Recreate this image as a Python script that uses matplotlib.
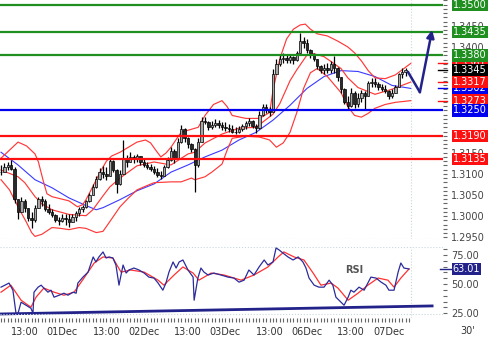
import numpy as np
import matplotlib
matplotlib.use("Agg")
import matplotlib.pyplot as plt
import matplotlib.transforms as mtransforms
from matplotlib.ticker import MultipleLocator, FormatStrFormatter, FixedLocator, FuncFormatter

plt.rcParams['font.family'] = 'DejaVu Sans'

# hourly bars from 30Nov 06:00 to 07Dec 05:00 (weekend left out)
closes = [1.3105, 1.3115, 1.3120, 1.3112, 1.3040, 1.3010, 1.3035, 1.3020, 1.2995, 1.2990,
          1.3020, 1.3040, 1.3035, 1.3018, 1.3010, 1.3002, 1.2990, 1.2988, 1.2995, 1.2992,
          1.2985, 1.2998, 1.3008, 1.3018, 1.3022, 1.3035, 1.3050, 1.3070, 1.3088, 1.3105,
          1.3100, 1.3095, 1.3130, 1.3110, 1.3075, 1.3100, 1.3135, 1.3128, 1.3140, 1.3135,
          1.3142, 1.3128, 1.3122, 1.3115, 1.3112, 1.3105, 1.3098, 1.3095, 1.3115, 1.3132,
          1.3155, 1.3135, 1.3175, 1.3205, 1.3185, 1.3170, 1.3158, 1.3120, 1.3175, 1.3225,
          1.3222, 1.3210, 1.3215, 1.3220, 1.3215, 1.3210, 1.3208, 1.3205, 1.3200, 1.3198,
          1.3205, 1.3212, 1.3220, 1.3225, 1.3212, 1.3208, 1.3240, 1.3258, 1.3250, 1.3245,
          1.3335, 1.3360, 1.3372, 1.3375, 1.3370, 1.3377, 1.3368, 1.3385, 1.3415, 1.3410,
          1.3392, 1.3380, 1.3372, 1.3355, 1.3345, 1.3350, 1.3345, 1.3360, 1.3350, 1.3328,
          1.3300, 1.3270, 1.3260, 1.3290, 1.3265, 1.3280, 1.3290, 1.3285, 1.3315, 1.3318,
          1.3312, 1.3305, 1.3300, 1.3295, 1.3285, 1.3292, 1.3305, 1.3335, 1.3340, 1.3345]
highs = [1.3121, 1.3126, 1.3128, 1.3133, 1.3115, 1.3040, 1.3045, 1.3040, 1.3020, 1.3010,
         1.3027, 1.3045, 1.3048, 1.3040, 1.3028, 1.3018, 1.3004, 1.2997, 1.3004, 1.3006,
         1.3004, 1.3006, 1.3012, 1.3022, 1.3027, 1.3039, 1.3055, 1.3076, 1.3095, 1.3114,
         1.3118, 1.3116, 1.3138, 1.3133, 1.3112, 1.3109, 1.3180, 1.3144, 1.3151, 1.3144,
         1.3147, 1.3142, 1.3138, 1.3128, 1.3123, 1.3118, 1.3114, 1.3107, 1.3121, 1.3140,
         1.3163, 1.3158, 1.3184, 1.3215, 1.3208, 1.3188, 1.3172, 1.3162, 1.3184, 1.3234,
         1.3234, 1.3224, 1.3224, 1.3229, 1.3227, 1.3222, 1.3222, 1.3217, 1.3215, 1.3210,
         1.3212, 1.3217, 1.3224, 1.3231, 1.3227, 1.3217, 1.3248, 1.3266, 1.3264, 1.3259,
         1.3349, 1.3372, 1.3381, 1.3386, 1.3381, 1.3384, 1.3379, 1.3391, 1.3433, 1.3424,
         1.3419, 1.3395, 1.3386, 1.3372, 1.3358, 1.3360, 1.3363, 1.3367, 1.3379, 1.3353,
         1.3330, 1.3302, 1.3285, 1.3304, 1.3295, 1.3292, 1.3299, 1.3297, 1.3320, 1.3327,
         1.3327, 1.3318, 1.3313, 1.3309, 1.3299, 1.3301, 1.3311, 1.3339, 1.3351, 1.3350]
lows = [1.3097, 1.3105, 1.3109, 1.3110, 1.3030, 1.2992, 1.3010, 1.3010, 1.2988, 1.2973,
        1.2985, 1.3020, 1.3025, 1.3012, 1.3006, 1.2998, 1.2985, 1.2978, 1.2985, 1.2978,
        1.2975, 1.2985, 1.2988, 1.3000, 1.3010, 1.3020, 1.3034, 1.3050, 1.3066, 1.3086,
        1.3090, 1.3086, 1.3095, 1.3105, 1.3055, 1.3074, 1.3100, 1.3116, 1.3128, 1.3126,
        1.3128, 1.3121, 1.3116, 1.3112, 1.3107, 1.3100, 1.3093, 1.3088, 1.3095, 1.3114,
        1.3130, 1.3126, 1.3135, 1.3172, 1.3175, 1.3161, 1.3151, 1.3057, 1.3115, 1.3175,
        1.3217, 1.3203, 1.3205, 1.3210, 1.3208, 1.3203, 1.3201, 1.3198, 1.3196, 1.3194,
        1.3196, 1.3201, 1.3205, 1.3212, 1.3208, 1.3196, 1.3205, 1.3236, 1.3243, 1.3236,
        1.3245, 1.3335, 1.3356, 1.3363, 1.3363, 1.3363, 1.3360, 1.3367, 1.3385, 1.3398,
        1.3386, 1.3375, 1.3367, 1.3349, 1.3339, 1.3337, 1.3339, 1.3339, 1.3339, 1.3320,
        1.3292, 1.3264, 1.3250, 1.3258, 1.3255, 1.3257, 1.3269, 1.3250, 1.3285, 1.3306,
        1.3306, 1.3299, 1.3295, 1.3290, 1.3278, 1.3280, 1.3290, 1.3305, 1.3327, 1.3332]

# blue moving average
ma_t = [0, 5, 10, 15, 20, 25, 28, 30, 35, 40, 45, 50, 55, 60, 65, 70, 75, 80,
        85, 90, 95, 100, 105, 110, 115, 120.5]
ma_v = [1.3151, 1.3121, 1.3086, 1.3067, 1.3043, 1.3025, 1.3015, 1.3020, 1.3039, 1.3060,
        1.3076, 1.3104, 1.3121, 1.3140, 1.3156, 1.3180, 1.3198, 1.3227,
        1.3262, 1.3302, 1.3330, 1.3344, 1.3342, 1.3330, 1.3309, 1.3302]

# bollinger bands
bb_up_t = [0, 2.5, 5, 7.5, 10, 11, 12.5, 13.5, 15, 20, 22.5, 24, 25, 26.5, 28, 29.5,
           31, 32.5, 35, 37.5, 40, 42.5, 44, 45.5, 47, 48.5, 50, 52, 53, 55, 58, 60,
           62.5, 65, 66.5, 68, 72, 76, 79, 80, 82, 84, 86, 88, 89.5, 91, 93, 96, 99,
           102, 104, 106, 108, 110, 113, 116, 118, 120.5]
bb_up = [1.3137, 1.3156, 1.3175, 1.3166, 1.3147, 1.3128, 1.3081, 1.3053, 1.3046, 1.3036,
         1.3022, 1.3027, 1.3039, 1.3062, 1.3086, 1.3109, 1.3130, 1.3142, 1.3151, 1.3163,
         1.3175, 1.3180, 1.3173, 1.3156, 1.3140, 1.3149, 1.3163, 1.3187, 1.3198, 1.3203,
         1.3210, 1.3238, 1.3264, 1.3273, 1.3259, 1.3238, 1.3231, 1.3231, 1.3245, 1.3297,
         1.3372, 1.3419, 1.3442, 1.3452, 1.3454, 1.3442, 1.3431, 1.3426, 1.3414, 1.3400,
         1.3386, 1.3367, 1.3344, 1.3327, 1.3325, 1.3334, 1.3346, 1.3361]
bb_mid_t = [0, 5, 7, 10, 12, 15, 20, 25, 27, 30, 32, 35, 40, 45, 50, 55, 57, 60, 65,
            70, 75, 80, 82, 85, 87, 90, 92, 95, 100, 102, 105, 110, 115, 120.5]
bb_mid = [1.3109, 1.3093, 1.3079, 1.3046, 1.3029, 1.3015, 1.3004, 1.3001, 1.3015, 1.3048,
          1.3069, 1.3090, 1.3119, 1.3128, 1.3121, 1.3147, 1.3151, 1.3173, 1.3194,
          1.3208, 1.3210, 1.3241, 1.3266, 1.3320, 1.3346, 1.3381, 1.3384, 1.3377, 1.3349,
          1.3327, 1.3304, 1.3288, 1.3300, 1.3317]
bb_low_t = [0, 2.5, 5, 7.5, 9, 10, 12, 15, 17.5, 20, 23, 25, 28, 30, 32, 35, 37.5, 40,
            42, 45, 50, 53, 56, 57, 60, 62, 65, 66.5, 68, 72, 76, 79, 81, 83, 85, 87,
            89, 91, 93, 96, 98, 100, 102, 104, 106, 108, 110, 113, 116, 120.5]
bb_low = [1.3086, 1.3062, 1.3022, 1.2985, 1.2961, 1.2952, 1.2957, 1.2973, 1.2971, 1.2968,
          1.2973, 1.2971, 1.2961, 1.2964, 1.2987, 1.3022, 1.3043, 1.3062,
          1.3069, 1.3079, 1.3081, 1.3081, 1.3090, 1.3086, 1.3093, 1.3104, 1.3123, 1.3156,
          1.3184, 1.3189, 1.3187, 1.3180, 1.3163, 1.3173, 1.3198, 1.3245,
          1.3302, 1.3339, 1.3349, 1.3330, 1.3311, 1.3292, 1.3259, 1.3238, 1.3234, 1.3243,
          1.3255, 1.3264, 1.3269, 1.3273]

# RSI and its signal line
rsi_t = [0, 2.35, 3.5, 4.4, 5, 5.9, 7.35, 8.8, 9.4, 9.7, 10.9, 11.8, 12.6, 13.8, 14.7,
         15.6, 17.1, 18.5, 19.7, 21.2, 22.1, 22.6, 24.1, 25.6, 27.1, 27.9, 28.8, 30,
         30.9, 31.8, 32.9, 33.8, 34.7, 35.9, 36.8, 37.6, 39.1, 40.6, 42.1, 43.5, 45,
         46.2, 47.6, 48.5, 49.4, 50.6, 51.5, 52.4, 53.5, 55, 56.5, 56.8, 57.9, 58.8,
         59.7, 60.9, 62.6, 64.7, 66.8, 68.5, 70, 71.5, 72.9, 74.4, 75.9, 77.4, 78.5,
         80, 80.9, 81.8, 82.9, 84.4, 85.9, 87.4, 88.8, 89.7, 90.6, 92.1, 93.5, 95,
         96.5, 97.6, 98.5, 100, 100.9, 102.1, 102.9, 103.8, 105.3, 106.8, 108.8, 110.3,
         111.8, 113.2, 114.1, 115.6, 116.8, 117.6, 118.5, 120]
rsi_v = [47.4, 50.9, 44.8, 25.0, 25.0, 34.5, 31.9, 29.3, 25.0, 43.1, 47.4, 49.1, 46.6,
         43.1, 44.8, 38.8, 40.5, 42.2, 40.5, 43.1, 42.2, 50.9, 56.0, 60.3, 73.3, 69.0,
         73.3, 77.6, 72.4, 73.3, 72.4, 66.4, 49.1, 66.4, 59.5, 62.1, 63.8, 62.1, 59.5,
         56.0, 55.2, 50.9, 44.8, 50.9, 60.3, 69.0, 63.8, 69.0, 70.7, 62.1, 56.0, 36.2,
         55.2, 63.8, 60.3, 57.8, 59.5, 57.8, 56.0, 55.2, 51.7, 53.4, 62.1, 57.8, 64.7,
         70.7, 66.4, 69.0, 81.0, 79.3, 76.7, 73.3, 70.7, 73.3, 69.0, 63.8, 55.2, 49.1,
         47.4, 47.4, 53.4, 49.1, 38.8, 34.5, 31.9, 38.8, 44.8, 43.1, 47.4, 44.8, 56.0,
         55.2, 51.7, 49.1, 44.8, 44.8, 60.3, 68.1, 63.8, 63.0]
sig_t = [0, 2.9, 5.9, 8.8, 10.3, 12.6, 15.6, 18.5, 21.5, 24.4, 27.4, 30, 32.9, 35.3,
         38.2, 42.1, 46.2, 47.9, 50.9, 53.5, 56.5, 58.2, 61.8, 65.6, 70.6, 74.4, 78.5,
         81.5, 83.2, 86.2, 89.1, 91.8, 94.1, 97.1, 99.1, 102.1, 105, 107.9, 110.9,
         113.8, 115.6, 117.6, 120]
sig_v = [43.1, 49.1, 36.2, 30.2, 38.8, 46.6, 43.1, 40.5, 43.1, 55.2, 68.1, 73.3, 72.4,
         60.3, 62.1, 60.3, 53.4, 49.1, 57.8, 64.7, 59.5, 53.4, 59.5, 57.8, 53.4, 57.8,
         64.7, 73.3, 77.6, 73.3, 70.7, 59.5, 49.1, 50.9, 46.6, 36.2, 42.2, 49.1, 55.2,
         53.4, 47.4, 55.2, 63.0]
rsi_trend_t = [0, 126.8]
rsi_trend_v = [24.4, 31.3]

levels_green = [1.3500, 1.3435, 1.3380]
levels_blue = [1.3250]
levels_red = [1.3190, 1.3135]

arrow_t = [119.7, 123.2, 126.8]
arrow_p = [1.3341, 1.3293, 1.3440]

last_close = 1.3345
last_up, last_mid, last_low = 1.3361, 1.3317, 1.3273
last_ma = 1.3302
last_rsi = 63.01

tick_hours = [7, 18, 31, 42, 55, 66, 79, 90, 103, 114]
tick_labels = ['13:00', '01Dec', '13:00', '02Dec', '13:00', '03Dec',
               '13:00', '06Dec', '13:00', '07Dec']

GREEN = '#1f8f1f'
RED = '#ff1010'
BLUE = '#0000ee'
NAVY = '#22228a'
GRID = '#c8d6dc'

fig = plt.figure(figsize=(5, 3.39), dpi=100)
ax = fig.add_axes([0, 0.2950, 0.886, 0.7050])
ax2 = fig.add_axes([0, 0.0611, 0.886, 0.2112], sharex=ax)

for a in (ax, ax2):
    for s in a.spines.values():
        s.set_visible(False)
    a.yaxis.tick_right()
    a.tick_params(axis='y', which='both', direction='out', length=3, width=0.8,
                  colors='#666', labelcolor='#444', labelsize=7, pad=3)
    a.axvline(120.5, color=GRID, lw=0.8, ls=':', zorder=0)

# candles
x = np.arange(len(closes))
c = np.array(closes)
o = np.r_[c[0], c[:-1]]
up = c >= o
ax.vlines(x, lows, highs, color='black', lw=0.9, zorder=2)
ax.bar(x[up], (c - o)[up], bottom=o[up], width=0.72, color='#a8a8a8',
       edgecolor='black', lw=0.5, zorder=2.1)
ax.bar(x[~up], (o - c)[~up], bottom=c[~up], width=0.72, color='#2a2a2a',
       edgecolor='black', lw=0.5, zorder=2.1)

# indicators
ax.plot(ma_t, ma_v, color='#3a3aff', lw=0.8, zorder=1.5)
for t, v in [(bb_up_t, bb_up), (bb_mid_t, bb_mid), (bb_low_t, bb_low)]:
    ax.plot(t, v, color='#ff3838', lw=0.85, zorder=1.6)

# support / resistance levels
for v in levels_green:
    ax.axhline(v, color=GREEN, lw=1.6, zorder=4)
for v in levels_blue:
    ax.axhline(v, color=BLUE, lw=1.6, zorder=4)
for v in levels_red:
    ax.axhline(v, color=RED, lw=1.6, zorder=4)

# projection arrow
ax.plot(arrow_t[:2], arrow_p[:2], color=NAVY, lw=1.8, zorder=5, solid_capstyle='round')
ax.annotate('', xy=(arrow_t[2], arrow_p[2]), xytext=(arrow_t[1], arrow_p[1]),
            arrowprops=dict(arrowstyle='-|>', color=NAVY, lw=1.8, mutation_scale=11,
                            shrinkA=0, shrinkB=0), zorder=5)

ax.set_xlim(-0.3, 130.0)
ax.set_ylim(1.29459, 1.3511)
ax.yaxis.set_major_locator(MultipleLocator(0.005))
ax.yaxis.set_minor_locator(MultipleLocator(0.001))
# price labels that sit fully under a coloured tag are left blank
hidden = {'1.3500', '1.3350', '1.3300', '1.3250', '1.3200'}
ax.yaxis.set_major_formatter(FuncFormatter(
    lambda v, pos: '' if f'{v:.4f}' in hidden else f'{v:.4f}'))
ax.tick_params(axis='x', which='both', length=0, labelbottom=False)
ax.plot([0, 1], [0.002, 0.002], transform=ax.transAxes, color=GRID, lw=0.8, ls=':')

trans = mtransforms.blended_transform_factory(ax.transAxes, ax.transData)


def tag(a, tr, v, txt, color, z):
    a.text(1.022, v, txt, transform=tr, ha='left', va='center', fontsize=7,
           color='white', clip_on=False, zorder=z,
           bbox=dict(boxstyle='square,pad=0.12', fc=color, ec='none'))


tag(ax, trans, last_up, f'{last_up:.4f}', RED, 6)
tag(ax, trans, last_ma, f'{last_ma:.4f}', BLUE, 6.1)
for i, v in enumerate(levels_green):
    tag(ax, trans, v, f'{v:.4f}', GREEN, 6.2 + i * 0.01)
tag(ax, trans, last_close, f'{last_close:.4f}', 'black', 6.3)
tag(ax, trans, last_mid, f'{last_mid:.4f}', RED, 6.4)
tag(ax, trans, last_low, f'{last_low:.4f}', RED, 6.5)
for v in levels_blue:
    tag(ax, trans, v, f'{v:.4f}', BLUE, 6.6)
for v in levels_red:
    tag(ax, trans, v, f'{v:.4f}', RED, 6.7)

for v, col in [(last_up, RED), (last_close, 'black'), (last_mid, RED),
               (last_ma, BLUE), (last_low, RED)]:
    ax.plot([0.989, 1.009], [v, v], transform=trans, color=col, lw=1.0,
            clip_on=False, zorder=5)

# RSI panel
ax2.plot(rsi_trend_t, rsi_trend_v, color=NAVY, lw=2.0, zorder=2)
ax2.plot(sig_t, sig_v, color='#ff3030', lw=0.9, zorder=3)
ax2.plot(rsi_t, rsi_v, color='#2b2b9c', lw=0.9, zorder=3.1)
ax2.text(104, 62, 'RSI', fontsize=7, fontweight='bold', color='#555',
         ha='center', va='center')
ax2.set_ylim(20.7, 82.1)
ax2.yaxis.set_major_locator(MultipleLocator(25))
ax2.yaxis.set_minor_locator(MultipleLocator(5))
ax2.yaxis.set_major_formatter(FormatStrFormatter('%.2f'))
ax2.plot([0, 1], [0.997, 0.997], transform=ax2.transAxes, color=GRID, lw=0.8, ls=':')
ax2.plot([0, 1], [0.055, 0.055], transform=ax2.transAxes, color=GRID, lw=0.8, ls=':')

trans2 = mtransforms.blended_transform_factory(ax2.transAxes, ax2.transData)
ax2.plot([0.993, 1.018], [last_rsi, last_rsi], transform=trans2, color=NAVY,
         lw=1.0, clip_on=False, zorder=5)
tag(ax2, trans2, last_rsi, f'{last_rsi:.2f}', NAVY, 6)

ax2.set_xticks(tick_hours)
ax2.set_xticklabels(tick_labels)
ax2.xaxis.set_minor_locator(FixedLocator(np.arange(0, 121)))
ax2.tick_params(axis='x', which='both', direction='out', length=3, width=0.8,
                colors='#666', labelcolor='#333', labelsize=7, pad=3)

fig.text(468 / 500, 1 - 330.5 / 339, "30'", fontsize=7, color='#333',
         ha='center', va='center')

fig.savefig('out.png', dpi=100)
